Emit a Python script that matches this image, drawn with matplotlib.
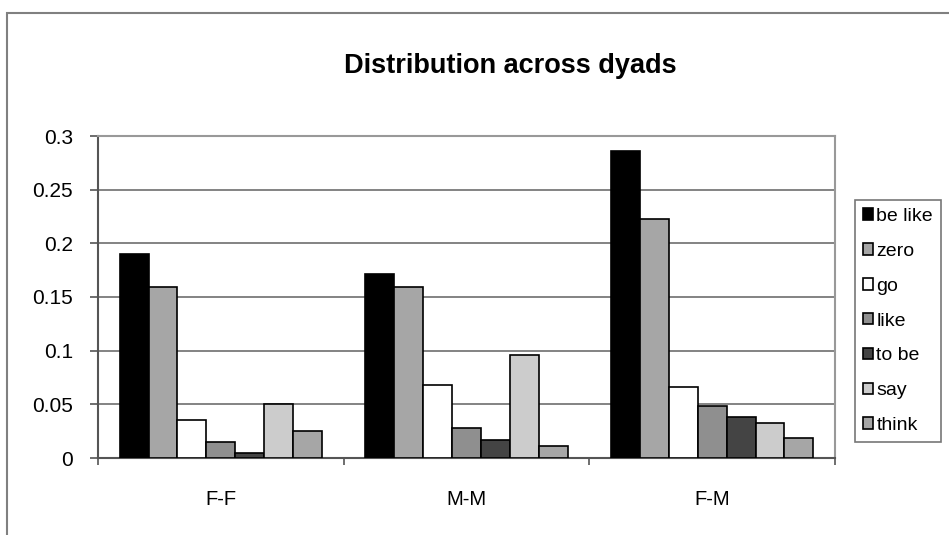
import matplotlib.pyplot as plt
import numpy as np
from matplotlib.patches import Rectangle

plt.rcParams['font.family'] = ['Liberation Sans', 'DejaVu Sans']

# data
dyads = ['F-F', 'M-M', 'F-M']
series = ['be like', 'zero', 'go', 'like', 'to be', 'say', 'think']
be_like = [0.190, 0.171, 0.286]
zero = [0.159, 0.159, 0.223]
go = [0.035, 0.068, 0.066]
like = [0.015, 0.028, 0.048]
to_be = [0.005, 0.017, 0.038]
say = [0.050, 0.096, 0.033]
think = [0.025, 0.011, 0.019]
values = [be_like, zero, go, like, to_be, say, think]
colors = ['#000000', '#a6a6a6', '#ffffff', '#8f8f8f', '#444444', '#cccccc', '#a6a6a6']

fig = plt.figure(figsize=(9.49, 5.35), dpi=100)
ax = fig.add_axes([98 / 949, 1 - 458 / 535, 737 / 949, 322 / 535])

# outer chart frame (cut off at right and bottom like the screenshot)
fig.patches.append(Rectangle((7 / 949, -0.1), 1.2, 1 - 13 / 535 + 0.1,
                             transform=fig.transFigure, fill=False,
                             edgecolor='#808080', lw=1.5, zorder=0))

n = len(series)
width = 1 / (n + 1.5)
x = np.arange(len(dyads))
for i in range(n):
    offs = (i - (n - 1) / 2) * width
    ax.bar(x + offs, values[i], width, color=colors[i], edgecolor='black',
           lw=1.2, label=series[i], zorder=3)

ax.set_xlim(-0.5, len(dyads) - 0.5)
ax.set_ylim(0, 0.3)
ax.set_yticks([0, 0.05, 0.1, 0.15, 0.2, 0.25, 0.3])
ax.set_yticklabels(['0', '0.05', '0.1', '0.15', '0.2', '0.25', '0.3'], fontsize=15)
ax.yaxis.grid(True, color='#6e6e6e', lw=1.2, zorder=0)
ax.set_axisbelow(True)

# category labels centred, ticks at the category boundaries
ax.set_xticks(np.arange(-0.5, len(dyads), 1))
ax.set_xticklabels([])
ax.set_xticks(x, minor=True)
ax.set_xticklabels(dyads, minor=True, fontsize=14.5)
ax.tick_params(axis='x', which='minor', length=0, pad=23)
ax.tick_params(axis='x', which='major', length=5, color='#555555', width=1.2)
ax.tick_params(axis='y', length=6, color='#555555', width=1.2, pad=12)

for s in ['left', 'bottom']:
    ax.spines[s].set_color('#555555')
    ax.spines[s].set_linewidth(1.5)
for s in ['top', 'right']:
    ax.spines[s].set_color('#999999')
    ax.spines[s].set_linewidth(1.5)

fig.text(510 / 949, 1 - 66 / 535, 'Distribution across dyads', ha='center',
         va='center', fontsize=19.5, fontweight='bold')

leg = ax.legend(loc='center left', bbox_to_anchor=(855 / 949, 1 - 321 / 535),
                bbox_transform=fig.transFigure, fontsize=14, frameon=True,
                fancybox=False, edgecolor='#555555', handlelength=0.55,
                handleheight=0.55, handletextpad=0.15, labelspacing=0.92,
                borderpad=0.4, borderaxespad=0)
leg.get_frame().set_linewidth(1.2)

fig.savefig('out.png', dpi=100)
